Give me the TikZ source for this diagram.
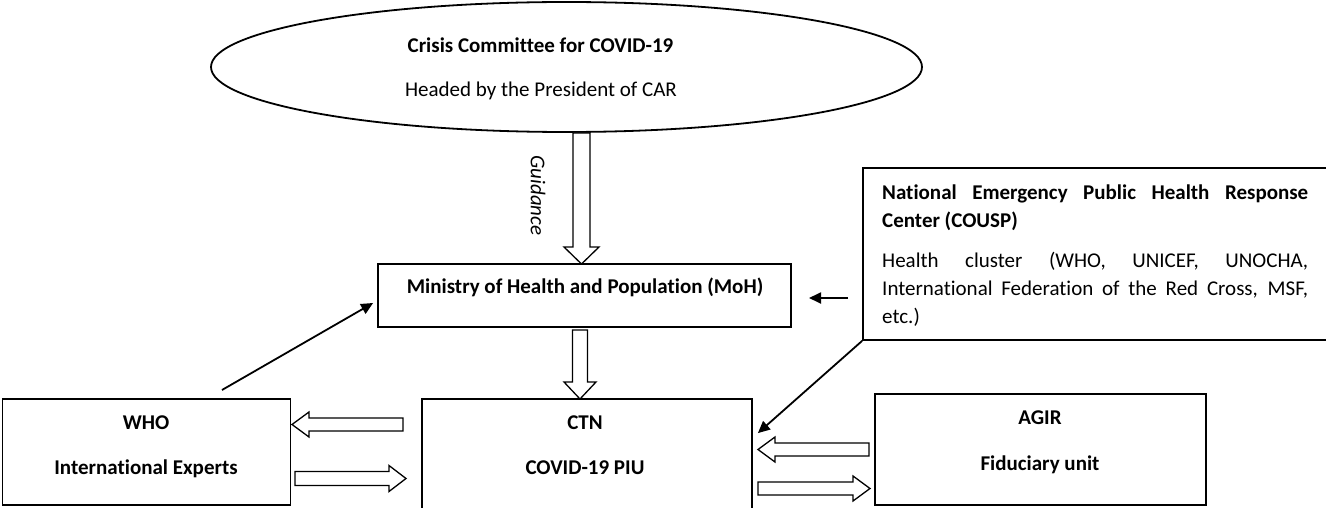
\documentclass[tikz,border=0pt]{standalone}
\usepackage{fontspec}
\setmainfont{Carlito}[Ligatures=NoCommon]
\usetikzlibrary{calc,arrows.meta,shapes.geometric}
\tikzset{
  box/.style={draw, line width=1.8pt, rectangle, inner sep=0pt},
  oval/.style={draw, line width=1.8pt, ellipse, inner sep=0pt},
  txt/.style={inner sep=0pt, font=\fontsize{21}{28}\selectfont},
  btxt/.style={txt, font=\fontsize{21}{28}\selectfont\bfseries},
  blk/.style={draw, line width=1.3pt, fill=white, line join=miter},
  con/.style={draw, line width=1.8pt, -{Triangle[length=12pt,width=11pt]}},
}
% \blockarr{tail}{tip}{shaft half width}{head half width}{head length}
\newcommand{\blockarr}[5]{%
  \coordinate (hb) at ($(#2)!#5!(#1)$);
  \draw[blk] ($(#1)!#3!90:(#2)$) -- ($(hb)!#3!-90:(#1)$) -- ($(hb)!#4!-90:(#1)$)
     -- (#2) -- ($(hb)!#4!90:(#1)$) -- ($(hb)!#3!90:(#1)$) -- ($(#1)!#3!-90:(#2)$) -- cycle;
}
\begin{document}
\begin{tikzpicture}[x=1pt,y=-1pt]
\useasboundingbox (0,0) rectangle (1326,508);
% shapes
\node[oval, minimum width=711pt, minimum height=130pt] (crisis) at (566.5,67) {};
\node[btxt] (crisisT) at (540.5,45) {Crisis Committee for COVID-19};
\node[txt] (crisisS) at (541,91) {Headed by the President of CAR};

\node[box, minimum width=413pt, minimum height=63pt] (moh) at (584.5,295.5) {};
\node[btxt] (mohT) at (585,287) {Ministry of Health and Population (MoH)};

\node[box, minimum width=467pt, minimum height=172pt] (cousp) at (1096.5,254) {};
\node[txt, anchor=north west, text width=426pt, align=justify] (couspT) at (882,185)
 {\textbf{National Emergency Public Health Response\linebreak Center (COUSP)}\par
  \vspace{12pt}
  Health cluster (WHO, UNICEF, UNOCHA,\linebreak International Federation of the Red Cross, MSF,\linebreak etc.)};

\node[box, minimum width=288pt, minimum height=106pt] (who) at (146.5,452) {};
\node[btxt] (whoA) at (146,423) {WHO};
\node[btxt] (whoB) at (146,469) {International Experts};

\node[box, minimum width=330pt, minimum height=115pt] (ctn) at (587,456.5) {};
\node[btxt] (ctnA) at (585,423) {CTN};
\node[btxt] (ctnB) at (585,468) {COVID-19 PIU};

\node[box, minimum width=331pt, minimum height=111pt] (agir) at (1040.5,449.5) {};
\node[btxt] (agirA) at (1040,418) {AGIR};
\node[btxt] (agirB) at (1040,465) {Fiduciary unit};

% block arrows
\coordinate (g1) at (581.5,133);
\coordinate (g2) at (581.5,264);
\blockarr{g1}{g2}{8.5pt}{17.5pt}{17pt}
\node[txt, font=\fontsize{21}{28}\selectfont\itshape, rotate=-90] (guid) at (538,195.5) {Guidance};

\coordinate (m1) at (580,330);
\coordinate (m2) at (580,399);
\blockarr{m1}{m2}{7.5pt}{16pt}{17pt}

\coordinate (wa1) at (403,424.5);
\coordinate (wa2) at (292,424.5);
\blockarr{wa1}{wa2}{6.5pt}{12.5pt}{17pt}
\coordinate (wb1) at (295,478.5);
\coordinate (wb2) at (406,478.5);
\blockarr{wb1}{wb2}{7pt}{13pt}{17pt}

\coordinate (aa1) at (869,449.5);
\coordinate (aa2) at (758,449.5);
\blockarr{aa1}{aa2}{6.5pt}{12.5pt}{17pt}
\coordinate (ab1) at (758,488.5);
\coordinate (ab2) at (870,488.5);
\blockarr{ab1}{ab2}{6.5pt}{12.5pt}{17pt}

% connectors
\coordinate (s1) at (848,298);
\coordinate (s2) at (809,298);
\draw[con] (s1) -- (s2);
\coordinate (w1) at (222,390);
\draw[con] (w1) -- ($(moh.west)+(-4,7.5)$);
\draw[con] (cousp.south west) -- ($(ctn.north east)+(5,35)$);
\end{tikzpicture}
\end{document}
